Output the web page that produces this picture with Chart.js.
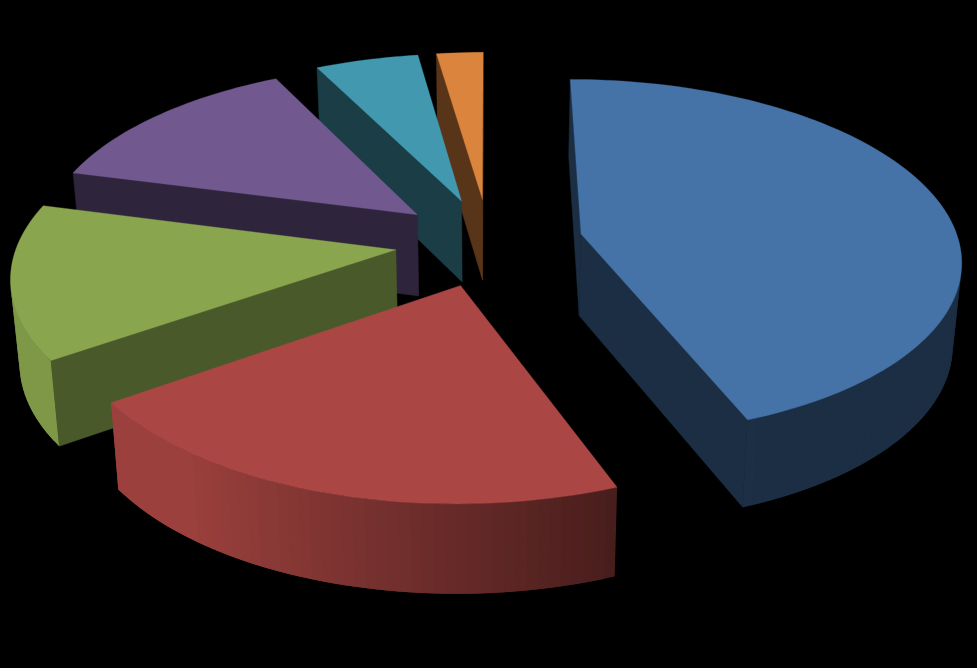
<!DOCTYPE html>
<html><head><meta charset="utf-8">
<style>html,body{margin:0;padding:0;background:#000}#w{width:977px;height:668px;position:relative}</style>
<script src="https://cdn.jsdelivr.net/npm/chart.js@4"></script>
</head><body><div id="w"><canvas id="c"></canvas></div>
<script>
const categories = ['A','B','C','D','E','F'];
const values = [44.15, 21.15, 13.8, 13.5, 5.1, 2.3];
const colors = ['#4572A7','#AA4643','#89A54E','#71588F','#4198AF','#DB843D'];
const flatShade = [0.40,0.45,0.54,0.41,0.40,0.40];
const drawOrder = [5,4,3,2,1,0];
const view = {x0:489,y0:242,a:378,b:177,k:0.132,dropBase:82,dropSlope:0.03,shrink:0.981};

function project(u,v){const s=1/(1-view.k*v);return [view.x0+view.a*u*s, view.y0+view.b*v*s];}
function drop(p){return [view.x0+(p[0]-view.x0)*view.shrink, p[1]+view.dropBase+(p[1]-view.y0)*view.dropSlope];}
function rgb(hex,f){const n=parseInt(hex.slice(1),16);return `rgb(${Math.round((n>>16&255)*f)},${Math.round((n>>8&255)*f)},${Math.round((n&255)*f)})`;}
function poly(ctx,pts,col,line){ctx.beginPath();pts.forEach((p,i)=>i?ctx.lineTo(p[0],p[1]):ctx.moveTo(p[0],p[1]));ctx.closePath();ctx.fillStyle=col;ctx.fill();if(line){ctx.strokeStyle=col;ctx.lineWidth=line;ctx.stroke();}}
function cross(a,b,c){return (b[0]-a[0])*(c[1]-a[1])-(b[1]-a[1])*(c[0]-a[0]);}

const pie3d = {id:'pie3d',
 beforeDatasetsDraw(chart){
  const ctx=chart.ctx, arcs=chart.getDatasetMeta(0).data;
  ctx.save();
  drawOrder.forEach(i=>{
   const arc=arcs[i], R=arc.outerRadius, st=arc.startAngle, en=arc.endAngle, mid=(st+en)/2;
   const d=(arc.options.offset||0)/4/R, ou=Math.cos(mid)*d, ov=Math.sin(mid)*d;
   const n=Math.max(2,Math.ceil((en-st)/(Math.PI/120)));
   const rim=[],rimA=[];
   for(let j=0;j<=n;j++){const a=st+(en-st)*j/n;rim.push(project(ou+Math.cos(a),ov+Math.sin(a)));rimA.push(a);}
   const apex=project(ou,ov), col=colors[i], fs=rgb(col,flatShade[i]), dApex=drop(apex);
   if(cross(apex,rim[0],dApex)<0) poly(ctx,[apex,rim[0],drop(rim[0]),dApex],fs,0.5);
   if(cross(apex,rim[n],dApex)>0) poly(ctx,[apex,rim[n],drop(rim[n]),dApex],fs,0.5);
   for(let j=0;j<n;j++){
    if(cross(rim[j],rim[j+1],drop(rim[j]))>=0) continue;
    const a=(rimA[j]+rimA[j+1])/2, k=Math.min(n,j+2);
    const f=Math.min(0.92,Math.max(0.40,0.60-0.5*Math.cos(a)));
    poly(ctx,[rim[j],rim[k],drop(rim[k]),drop(rim[j])],rgb(col,f));
   }
   poly(ctx,[apex,...rim],col,0.3);
  });
  ctx.restore();
  return false;
 }};

new Chart(document.getElementById('c'),{type:'pie',
 data:{labels:categories,datasets:[{data:values,backgroundColor:colors,offset:222,borderWidth:0}]},
 options:{responsive:true,maintainAspectRatio:false,animation:false,rotation:0,
  layout:{padding:0},events:[],
  plugins:{legend:{display:false},title:{display:false},tooltip:{enabled:false}}},
 plugins:[pie3d]});
</script></body></html>
